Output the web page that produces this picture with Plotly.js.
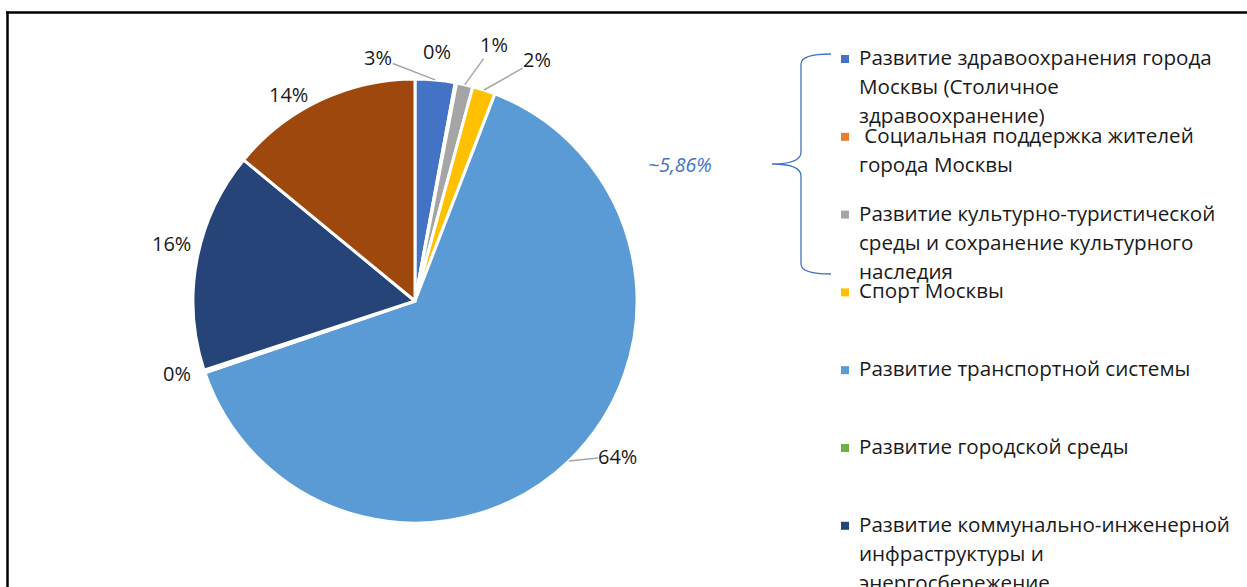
<!DOCTYPE html>
<html><head><meta charset="utf-8">
<script src="https://cdn.plot.ly/plotly-3.0.1.min.js"></script>
<style>html,body{margin:0;padding:0;background:#fff;} #chart{width:1247px;height:587px;}</style>
</head><body><div id="chart"></div>
<script>
// ---- data ----
const categories = [
  "Развитие здравоохранения города Москвы (Столичное здравоохранение)",
  "Социальная поддержка жителей города Москвы",
  "Развитие культурно-туристической среды и сохранение культурного наследия",
  "Спорт Москвы",
  "Развитие транспортной системы",
  "Развитие городской среды",
  "Развитие коммунально-инженерной инфраструктуры и энергосбережение",
  "Прочие"
];
const values = [2.9, 0.1, 1.2, 1.66, 63.9, 0.2, 16.0, 14.04];
const colors = ["#4472C4", "#ED7D31", "#A5A5A5", "#FFC000", "#5B9BD5", "#70AD47", "#264478", "#9E480E"];
const legendLabels = [
  "Развитие здравоохранения города<br>Москвы (Столичное<br>здравоохранение)",
  "\u00a0Социальная поддержка жителей<br>города Москвы",
  "Развитие культурно-туристической<br>среды и сохранение культурного<br>наследия",
  "Спорт Москвы",
  "Развитие транспортной системы",
  "Развитие городской среды",
  "Развитие коммунально-инженерной<br>инфраструктуры и<br>энергосбережение"
];
const bracketLabel = "~5,86%";

// ---- layout helpers (styling / geometry) ----
const W = 1247, H = 587;
const cx = 415, cy = 301, R = 222;
const FONT = "Open Sans, Noto Sans, sans-serif";
const px = (x) => x / W;
const py = (y) => 1 - y / H;
const labelOffsets = [[-57,-22],[-19,-31],[29,-40],[53,-30],[49,-5],[-27,2],[-25,-16],[-32,-6]];
const showLeader = [true, false, true, true, true, false, false, false];

const total = values.reduce((a, b) => a + b, 0);
const annotations = [];
const shapes = [];

// pie data labels positioned from slice mid-angles
let cum = 0;
values.forEach((v, i) => {
  const mid = (cum + v / 2) / total * 2 * Math.PI;
  cum += v;
  const ex = cx + R * Math.sin(mid), ey = cy - R * Math.cos(mid);
  annotations.push({
    xref: "paper", yref: "paper", x: px(ex), y: py(ey),
    text: Math.round(v / total * 100) + "%",
    showarrow: true, arrowhead: 0, arrowwidth: 1.5,
    arrowcolor: showLeader[i] ? "#A6A6A6" : "rgba(0,0,0,0)",
    ax: labelOffsets[i][0], ay: labelOffsets[i][1],
    font: {family: FONT, size: 20, color: "#1a1a1a"}, borderpad: 0, standoff: 0
  });
});

// manual legend (equal slots like the original)
const slot0 = 57, slotH = 77.8, lineH = 29;
legendLabels.forEach((lab, i) => {
  const y0 = slot0 + i * slotH;
  shapes.push({type: "rect", xref: "paper", yref: "paper",
    x0: px(841), x1: px(849), y0: py(y0 - 2), y1: py(y0 + 6),
    fillcolor: colors[i], line: {width: 0}});
  lab.split("<br>").forEach((ln, j) => {
    annotations.push({xref: "paper", yref: "paper", x: px(858), y: py(y0 + j * lineH),
      xanchor: "left", yanchor: "middle", text: ln, showarrow: false,
      font: {family: FONT, size: 20.6, color: "#1a1a1a"}, borderpad: 0});
  });
});

// bracket
const P = (x, y) => px(x) + "," + py(y);
shapes.push({type: "path", xref: "paper", yref: "paper",
  path: "M" + P(831,54) + " Q" + P(801,54) + " " + P(801,64) +
        " L" + P(801,152) + " Q" + P(801,164) + " " + P(772,164) +
        " Q" + P(801,164) + " " + P(801,176) +
        " L" + P(801,264) + " Q" + P(801,274) + " " + P(831,274),
  line: {color: "#4472C4", width: 1.3}});
annotations.push({xref: "paper", yref: "paper", x: px(680), y: py(164), text: "<i>" + bracketLabel + "</i>",
  showarrow: false, xanchor: "center", yanchor: "middle",
  font: {family: FONT, size: 19.5, color: "#4472C4"}});

// frame
shapes.push({type: "line", xref: "paper", yref: "paper", x0: px(6), x1: px(1247), y0: py(12.5), y1: py(12.5), line: {color: "#000", width: 2.5}});
shapes.push({type: "line", xref: "paper", yref: "paper", x0: px(7.5), x1: px(7.5), y0: py(11.5), y1: py(587), line: {color: "#000", width: 2.5}});

const trace = {
  type: "pie", labels: categories, values: values, sort: false, direction: "clockwise", rotation: 0,
  marker: {colors: colors, line: {color: "#ffffff", width: 3}},
  textinfo: "none", hoverinfo: "label+percent", showlegend: false,
  domain: {x: [px(cx - R), px(cx + R)], y: [py(cy + R), py(cy - R)]}
};

Plotly.newPlot("chart", [trace], {
  width: W, height: H, margin: {l: 0, r: 0, t: 0, b: 0},
  paper_bgcolor: "#fff", plot_bgcolor: "#fff", showlegend: false,
  annotations: annotations, shapes: shapes
}, {displayModeBar: false, staticPlot: true});
</script></body></html>
